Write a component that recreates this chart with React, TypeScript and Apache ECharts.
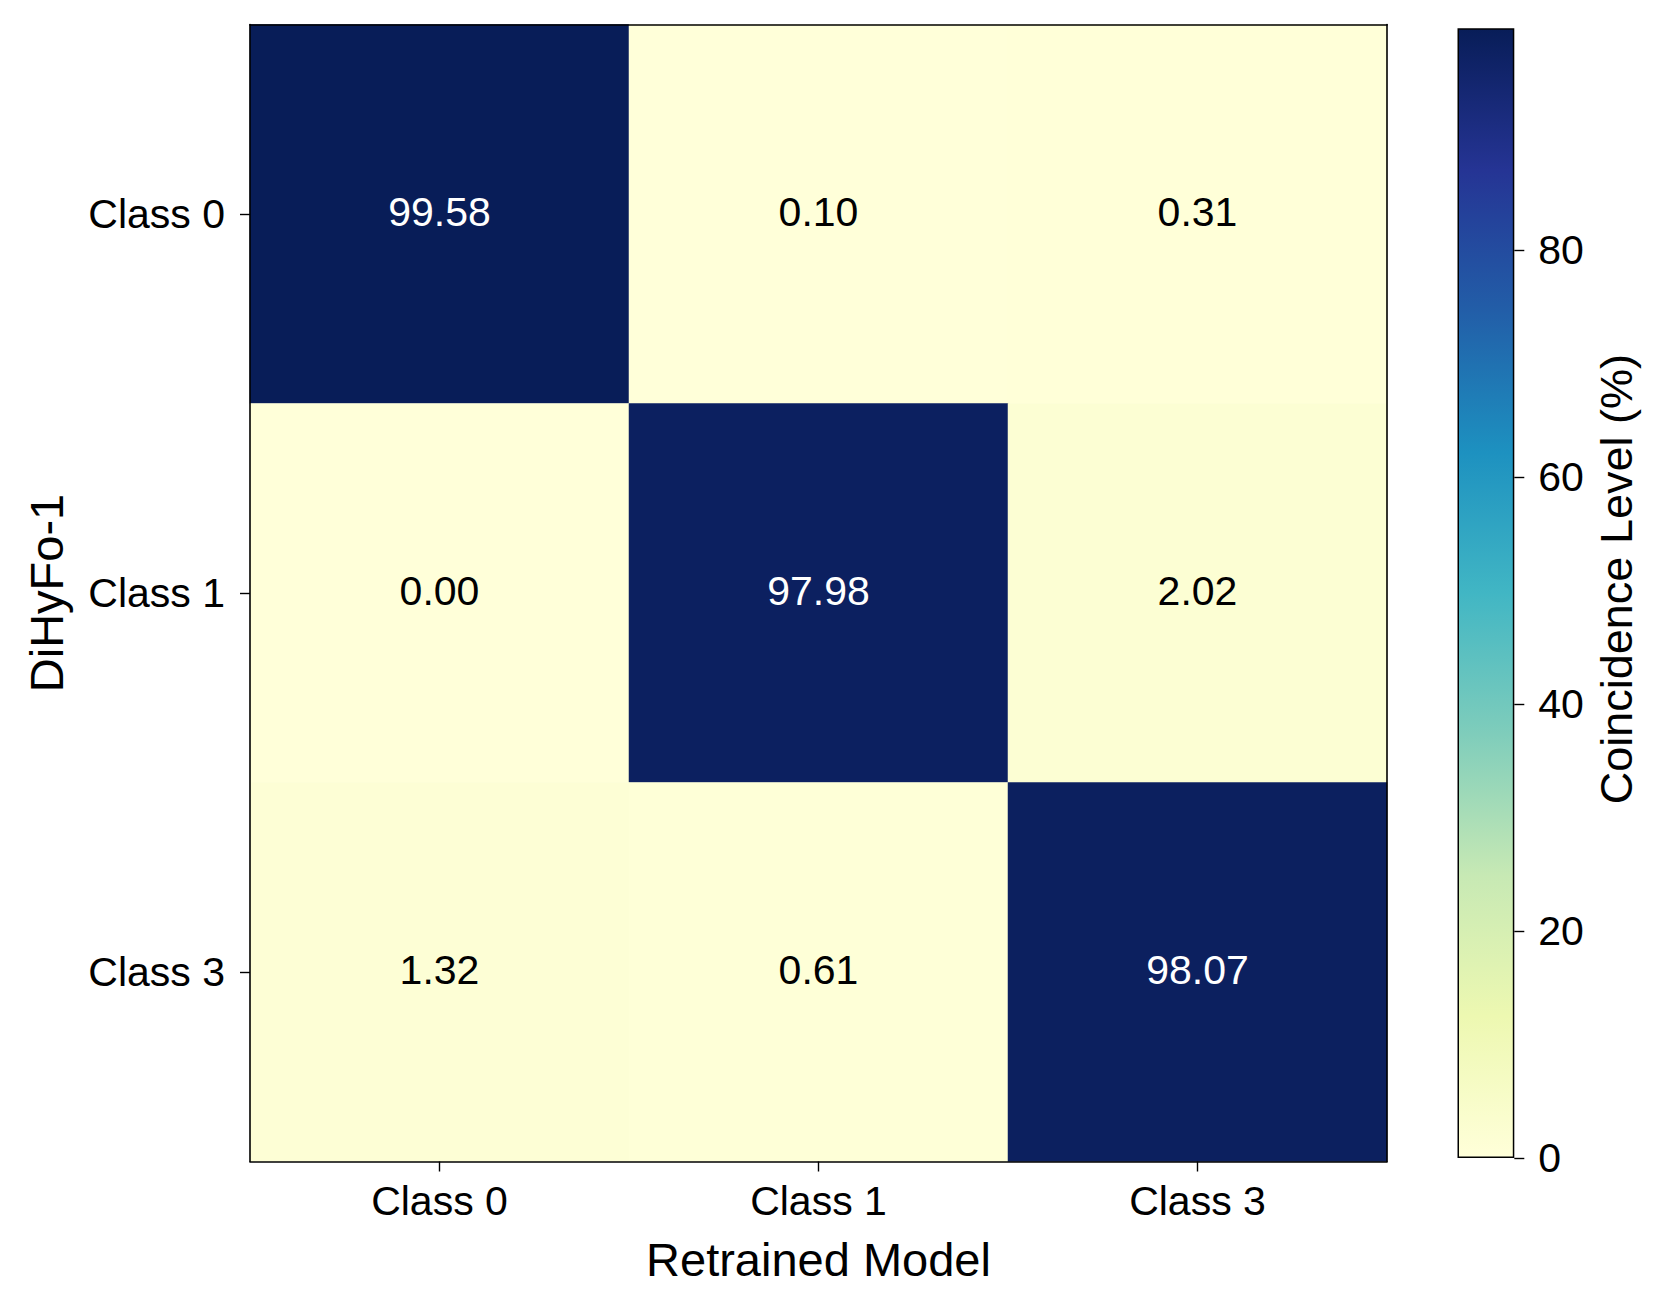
import React, { useEffect, useRef } from "react";
import * as echarts from "echarts";

// ---- data ----
const xCategories = ["Class 0", "Class 1", "Class 3"]; // Retrained Model
const yCategories = ["Class 0", "Class 1", "Class 3"]; // DiHyFo-1 (top to bottom)
const rowClass0 = [99.58, 0.1, 0.31];
const rowClass1 = [0.0, 97.98, 2.02];
const rowClass3 = [1.32, 0.61, 98.07];
const matrix = [rowClass0, rowClass1, rowClass3];
const colorbarTicks = [0, 20, 40, 60, 80];
const ylgnbu = ["#ffffd9", "#edf8b1", "#c7e9b4", "#7fcdbb", "#41b6c4", "#1d91c0", "#225ea8", "#253494", "#081d58"];

const FONT = "'Liberation Sans', Arial, Helvetica, sans-serif";

export default function App() {
  const ref = useRef<HTMLDivElement>(null);
  useEffect(() => {
    document.body.style.margin = "0";
    if (!ref.current) return;
    const chart = echarts.init(ref.current, undefined, { renderer: "svg" });
    const vmin = 0;
    const vmax = Math.max(...matrix.flat());
    const heatData: any[] = [];
    matrix.forEach((row, i) =>
      row.forEach((v, j) => {
        heatData.push({
          value: [j, i, v],
          label: { color: v > vmax / 2 ? "#ffffff" : "#000000" },
        });
      })
    );
    const gradient = new echarts.graphic.LinearGradient(
      0, 1, 0, 0,
      ylgnbu.map((c, i) => ({ offset: i / (ylgnbu.length - 1), color: c }))
    );
    const axisLineStyle = { color: "#000", width: 1.6 };
    const tickStyle = { color: "#000", width: 1.4 };
    chart.setOption({
      animation: false,
      backgroundColor: "#ffffff",
      textStyle: { fontFamily: FONT },
      grid: [
        { left: 250, top: 24.5, width: 1137, height: 1137, containLabel: false },
        { left: 1457.5, top: 28.3, width: 56.8, height: 1129.7, containLabel: false },
      ],
      visualMap: {
        type: "continuous",
        show: false,
        min: vmin,
        max: vmax,
        seriesIndex: 0,
        inRange: { color: ylgnbu },
      },
      xAxis: [
        {
          type: "category",
          gridIndex: 0,
          data: xCategories,
          position: "bottom",
          z: 10,
          axisLine: { show: true, lineStyle: axisLineStyle },
          axisTick: { show: true, alignWithLabel: true, length: 10, lineStyle: tickStyle },
          axisLabel: { fontSize: 41, color: "#000", margin: 19, fontFamily: FONT },
          splitLine: { show: false },
          name: "Retrained Model",
          nameLocation: "middle",
          nameGap: 74,
          nameTextStyle: { fontSize: 47, color: "#000", fontFamily: FONT },
        },
        {
          type: "category",
          gridIndex: 0,
          data: xCategories,
          position: "top",
          z: 10,
          axisLine: { show: true, lineStyle: axisLineStyle },
          axisTick: { show: false },
          axisLabel: { show: false },
          splitLine: { show: false },
        },
        {
          type: "category",
          gridIndex: 1,
          data: ["cb"],
          show: false,
        },
      ],
      yAxis: [
        {
          type: "category",
          gridIndex: 0,
          data: yCategories,
          inverse: true,
          position: "left",
          z: 10,
          axisLine: { show: true, lineStyle: axisLineStyle },
          axisTick: { show: true, alignWithLabel: true, length: 10, lineStyle: tickStyle },
          axisLabel: { fontSize: 41, color: "#000", margin: 25, fontFamily: FONT },
          splitLine: { show: false },
          name: "DiHyFo-1",
          nameLocation: "middle",
          nameGap: 180,
          nameRotate: 90,
          nameTextStyle: { fontSize: 47, color: "#000", fontFamily: FONT },
        },
        {
          type: "category",
          gridIndex: 0,
          data: yCategories,
          inverse: true,
          position: "right",
          z: 10,
          axisLine: { show: true, lineStyle: axisLineStyle },
          axisTick: { show: false },
          axisLabel: { show: false },
          splitLine: { show: false },
        },
        {
          type: "value",
          gridIndex: 1,
          min: vmin,
          max: vmax,
          position: "right",
          z: 10,
          axisLine: { show: false },
          axisTick: { show: true, length: 10, lineStyle: tickStyle, customValues: colorbarTicks },
          axisLabel: { fontSize: 41, color: "#000", margin: 24, fontFamily: FONT, customValues: colorbarTicks },
          splitLine: { show: false },
          name: "Coincidence Level (%)",
          nameLocation: "middle",
          nameGap: 80,
          nameRotate: 90,
          nameTextStyle: { fontSize: 45, color: "#000", fontFamily: FONT, padding: [0, 0, 0, 28] },
        },
      ],
      series: [
        {
          type: "heatmap",
          xAxisIndex: 0,
          yAxisIndex: 0,
          data: heatData,
          itemStyle: { borderWidth: 0 },
          label: {
            show: true,
            fontSize: 41,
            fontFamily: FONT,
            offset: [0, -2],
            formatter: (p: any) => p.value[2].toFixed(2),
          },
          emphasis: { disabled: true },
        },
        {
          type: "bar",
          xAxisIndex: 2,
          yAxisIndex: 2,
          data: [vmax],
          barWidth: "100%",
          itemStyle: { color: gradient, borderColor: "#000", borderWidth: 1.5 },
          silent: true,
        },
      ],
    });
    return () => chart.dispose();
  }, []);
  return <div ref={ref} style={{ width: 1662, height: 1310 }} />;
}
